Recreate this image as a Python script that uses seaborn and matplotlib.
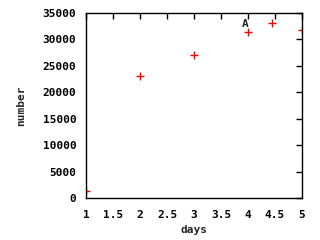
import matplotlib
matplotlib.use("Agg")
import matplotlib.pyplot as plt
import seaborn as sns
import pandas as pd

days = [1.0, 2.0, 3.0, 4.0, 4.45, 5.0]
number = [1300, 23100, 27000, 31500, 33100, 31750]
xticks = [1, 1.5, 2, 2.5, 3, 3.5, 4, 4.5, 5]
xticklabels = ["1", "1.5", "2", "2.5", "3", "3.5", "4", "4.5", "5"]
yticks = [0, 5000, 10000, 15000, 20000, 25000, 30000, 35000]
label_text = "A"
label_pos = (3.94, 32900)

sns.set_style("white")
plt.rcParams['font.family'] = ['DejaVu Sans Mono']
plt.rcParams['font.weight'] = 'bold'

df = pd.DataFrame({"days": days, "number": number})
fig = plt.figure(figsize=(3.2, 2.4), dpi=100)
ax = fig.add_axes([86/320, 1 - 198/240, (302-86)/320, (198-13)/240])
sns.scatterplot(data=df, x="days", y="number", marker="+", color="red",
                s=30, linewidth=1.0, ax=ax, legend=False)
ax.set_xlim(1, 5)
ax.set_ylim(0, 35000)
ax.set_xticks(xticks)
ax.set_xticklabels(xticklabels)
ax.set_yticks(yticks)
ax.tick_params(direction="in", top=True, right=True, length=4, width=1,
               labelsize=8, colors="black")
ax.tick_params(axis="x", pad=9)
ax.tick_params(axis="y", pad=7)
for lab in ax.get_xticklabels() + ax.get_yticklabels():
    lab.set_fontweight("bold")
for s in ax.spines.values():
    s.set_color("black")
    s.set_linewidth(1)
ax.set_xlabel("days", fontsize=8, fontweight="bold", labelpad=3)
ax.set_ylabel("number", fontsize=8, fontweight="bold", labelpad=12)
ax.text(label_pos[0], label_pos[1], label_text, fontsize=8, fontweight="bold",
        ha="center", va="center")
fig.savefig("out.png", dpi=100)
